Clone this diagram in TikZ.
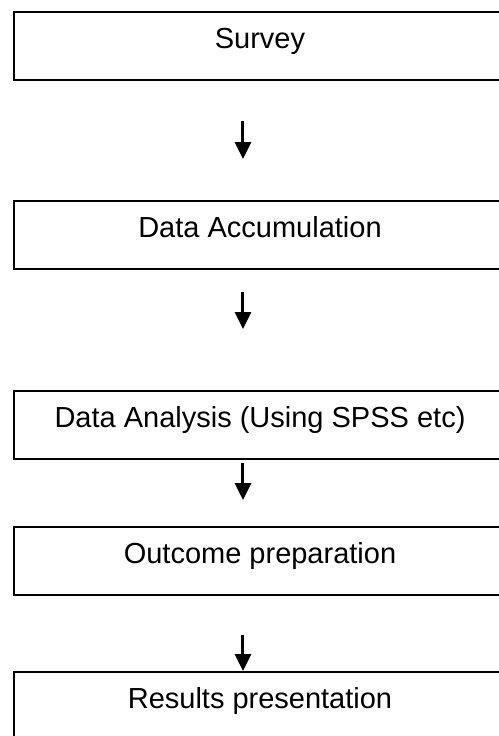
\documentclass[tikz,border=0pt]{standalone}
\usepackage{fontspec}
\setmainfont{Liberation Sans}
\usetikzlibrary{arrows.meta}

\begin{document}
\begin{tikzpicture}[
    x=0.5pt, y=-0.5pt,
    box/.style={draw, line width=1pt, rectangle, anchor=north,
                minimum width=246pt, inner xsep=0pt, inner ysep=4pt,
                text height=14pt, text depth=11.75pt,
                font=\fontsize{14.5}{17}\selectfont},
    arr/.style={-{Triangle[length=8.5pt, width=8pt]}, line width=1.5pt}
  ]
    \useasboundingbox (0,0) rectangle (499,736);
    \clip (0,0) rectangle (499,736);

    % Stages (right side of the boxes runs off the page)
    \node[box] (survey)  at (260, 11)  {Survey};
    \node[box] (accum)   at (260, 200) {Data Accumulation};
    \node[box] (analysis)at (260, 390) {Data Analysis (Using SPSS etc)};
    \node[box] (outcome) at (260, 526) {Outcome preparation};
    \node[box] (results) at (260, 671) {Results presentation};

    % Arrow column
    \coordinate (col) at (243, 0);

    % Arrows between stages
    \draw[arr, shorten <=20pt,   shorten >=20.5pt] (survey.south -| col)   -- (accum.north -| col);
    \draw[arr, shorten <=11pt,   shorten >=30.5pt] (accum.south -| col)    -- (analysis.north -| col);
    \draw[arr, shorten <=1.5pt,  shorten >=13pt]   (analysis.south -| col) -- (outcome.north -| col);
    \draw[arr, shorten <=19.5pt]                   (outcome.south -| col)  -- (results.north -| col);
  \end{tikzpicture}
\end{document}
